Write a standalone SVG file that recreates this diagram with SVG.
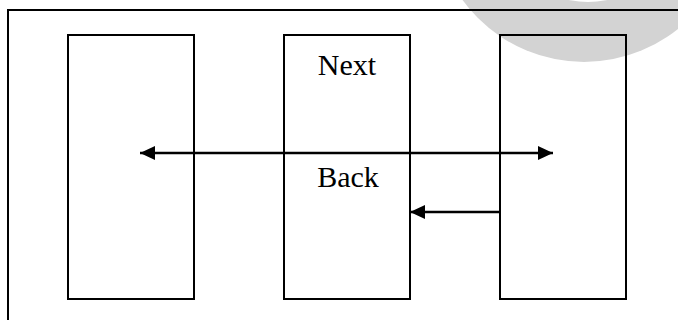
<svg xmlns="http://www.w3.org/2000/svg" width="678" height="320" viewBox="0 0 678 320">
<style>
.box{fill:none;stroke:#000;stroke-width:2}
.ln{fill:none;stroke:#000;stroke-width:2.5}
.lbl{font-family:"Liberation Serif","Times New Roman",serif;font-size:30px;fill:#000;text-anchor:middle}
</style>
<defs>
<marker id="ah" markerWidth="15" markerHeight="14" refX="15" refY="7" orient="auto" markerUnits="userSpaceOnUse">
<path d="M0,0 L15,7 L0,14 Z" fill="#000"/>
</marker>
</defs>
<rect width="678" height="320" fill="#fff"/>
<g id="decor">
<circle cx="584" cy="-88" r="150" fill="#d3d3d3"/>
<circle cx="588" cy="-88" r="90" fill="#fff"/>
</g>
<g id="frame">
<rect x="8" y="10" width="700" height="340" class="box"/>
</g>
<g id="box-left">
<rect x="68" y="35" width="126" height="264" class="box"/>
</g>
<g id="box-middle">
<rect x="284" y="35" width="126" height="264" class="box"/>
<text x="347" y="75" class="lbl">Next</text>
<text x="348" y="187" class="lbl">Back</text>
</g>
<g id="box-right">
<rect x="500" y="35" width="126" height="264" class="box"/>
</g>
<g id="connectors">
<line x1="346" y1="153" x2="140" y2="153" class="ln" marker-end="url(#ah)"/>
<line x1="346" y1="153" x2="553" y2="153" class="ln" marker-end="url(#ah)"/>
<line x1="500" y1="212" x2="410" y2="212" class="ln" marker-end="url(#ah)"/>
</g>
</svg>
